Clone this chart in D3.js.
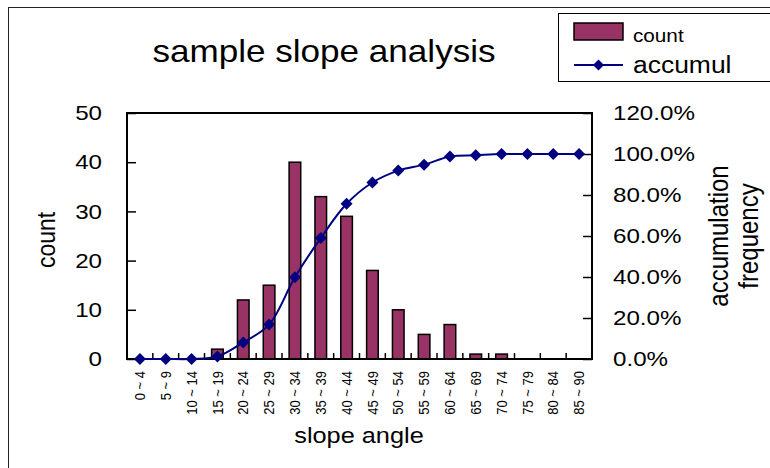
<!DOCTYPE html>
<html>
<head>
<meta charset="utf-8">
<script src="https://cdn.jsdelivr.net/npm/d3@7"></script>
<style>
  html, body { margin: 0; padding: 0; background: #fff; }
  #chart { width: 770px; height: 468px; }
</style>
</head>
<body>
<div id="chart"></div>
<script>
const categories = ["0 ~ 4", "5 ~ 9", "10 ~ 14", "15 ~ 19", "20 ~ 24", "25 ~ 29",
  "30 ~ 34", "35 ~ 39", "40 ~ 44", "45 ~ 49", "50 ~ 54", "55 ~ 59",
  "60 ~ 64", "65 ~ 69", "70 ~ 74", "75 ~ 79", "80 ~ 84", "85 ~ 90"];
const counts = [0, 0, 0, 2, 12, 15, 40, 33, 29, 18, 10, 5, 7, 1, 1, 0, 0, 0];
const accumul = [0, 0, 0, 1.2, 8.1, 16.8, 39.9, 59.0, 75.7, 86.1, 91.9, 94.8,
  98.8, 99.4, 100, 100, 100, 100];
const countTicks = [0, 10, 20, 30, 40, 50];
const pctTicks = [0, 20, 40, 60, 80, 100, 120];

window.addEventListener("load", () => {
  const width = 770;
  const height = 468;
  const barFill = "#993366";
  const lineColor = "#000080";
  const font = "'Liberation Sans', Arial, sans-serif";
  const stretchK = 1.15;

  const plot = { left: 127, right: 592, top: 113, bottom: 359 };

  const svg = d3.select("#chart")
    .append("svg")
    .attr("width", width)
    .attr("height", height)
    .style("font-family", font);

  // the source picture looks stretched sideways, so widen text to match
  function stretch(sel) {
    sel.each(function () {
      const len = this.getComputedTextLength();
      d3.select(this)
        .attr("textLength", len * stretchK)
        .attr("lengthAdjust", "spacingAndGlyphs");
    });
  }

  // outer chart frame
  svg.append("rect")
    .attr("x", 8.5)
    .attr("y", 7.5)
    .attr("width", width)
    .attr("height", height)
    .attr("fill", "none")
    .attr("stroke", "#222")
    .attr("stroke-width", 1);

  const x = d3.scaleBand()
    .domain(categories)
    .range([plot.left, plot.right])
    .paddingInner(0.55)
    .paddingOuter(0.275);
  const yCount = d3.scaleLinear().domain([0, 50]).range([plot.bottom, plot.top]);
  const yPct = d3.scaleLinear().domain([0, 120]).range([plot.bottom, plot.top]);
  const cx = (c) => x(c) + x.bandwidth() / 2;

  // left axis
  const leftAxis = svg.append("g")
    .attr("transform", `translate(${plot.left},0)`)
    .call(d3.axisLeft(yCount).tickValues(countTicks).tickSize(-9).tickPadding(25));
  leftAxis.select(".domain").remove();
  leftAxis.selectAll("line").attr("stroke", "#000").attr("stroke-width", 1.5);
  leftAxis.selectAll("text")
    .attr("font-size", "21px")
    .attr("font-family", font)
    .attr("fill", "#000")
    .call(stretch);

  // right axis
  const rightAxis = svg.append("g")
    .attr("transform", `translate(${plot.right},0)`)
    .call(d3.axisRight(yPct).tickValues(pctTicks).tickSize(-9).tickPadding(21)
      .tickFormat((d) => d3.format(".1f")(d) + "%"));
  rightAxis.select(".domain").remove();
  rightAxis.selectAll("line").attr("stroke", "#000").attr("stroke-width", 1.5);
  rightAxis.selectAll("text")
    .attr("font-size", "21px")
    .attr("font-family", font)
    .attr("fill", "#000")
    .call(stretch);

  // bottom ticks at category boundaries, pointing inward
  svg.append("g")
    .selectAll("line")
    .data(categories.slice(1))
    .join("line")
    .attr("x1", (d) => x(d) - x.step() * x.paddingInner() / 2)
    .attr("x2", (d) => x(d) - x.step() * x.paddingInner() / 2)
    .attr("y1", plot.bottom)
    .attr("y2", plot.bottom - 6)
    .attr("stroke", "#000")
    .attr("stroke-width", 1.5);

  // bars
  svg.append("g")
    .selectAll("rect")
    .data(categories)
    .join("rect")
    .attr("x", (d) => x(d))
    .attr("y", (d, i) => yCount(counts[i]))
    .attr("width", x.bandwidth())
    .attr("height", (d, i) => plot.bottom - yCount(counts[i]))
    .attr("fill", barFill)
    .attr("stroke", "#000")
    .attr("stroke-width", (d, i) => (counts[i] > 0 ? 1.5 : 0));

  // plot frame
  svg.append("rect")
    .attr("x", plot.left)
    .attr("y", plot.top)
    .attr("width", plot.right - plot.left)
    .attr("height", plot.bottom - plot.top)
    .attr("fill", "none")
    .attr("stroke", "#000")
    .attr("stroke-width", 2);

  // cumulative line
  const line = d3.line()
    .x((d, i) => cx(categories[i]))
    .y((d) => yPct(d))
    .curve(d3.curveCatmullRom.alpha(0.5));

  svg.append("path")
    .datum(accumul)
    .attr("d", line)
    .attr("fill", "none")
    .attr("stroke", lineColor)
    .attr("stroke-width", 2);

  const diamond = (r) => `M0,${-r}L${r},0L0,${r}L${-r},0Z`;

  svg.append("g")
    .selectAll("path")
    .data(accumul)
    .join("path")
    .attr("transform", (d, i) => `translate(${cx(categories[i])},${yPct(d)})`)
    .attr("d", diamond(6))
    .attr("fill", lineColor);

  // x tick labels
  svg.append("g")
    .selectAll("text")
    .data(categories)
    .join("text")
    .attr("transform", (d) => `translate(${cx(d)},371) rotate(-90) scale(1,${stretchK})`)
    .attr("text-anchor", "end")
    .attr("dy", "0.35em")
    .attr("font-size", "13px")
    .attr("fill", "#000")
    .text((d) => d);

  // title
  svg.append("text")
    .attr("x", 324)
    .attr("y", 62)
    .attr("text-anchor", "middle")
    .attr("font-size", "30.5px")
    .attr("fill", "#000")
    .text("sample slope analysis")
    .call(stretch);

  // axis titles
  svg.append("text")
    .attr("x", 359)
    .attr("y", 443)
    .attr("text-anchor", "middle")
    .attr("font-size", "22px")
    .attr("fill", "#000")
    .text("slope angle")
    .call(stretch);

  svg.append("text")
    .attr("transform", `translate(55,240) rotate(-90) scale(1,${stretchK})`)
    .attr("text-anchor", "middle")
    .attr("font-size", "23px")
    .attr("fill", "#000")
    .text("count");

  svg.append("text")
    .attr("transform", `translate(728,236) rotate(-90) scale(1,${stretchK})`)
    .attr("text-anchor", "middle")
    .attr("font-size", "24px")
    .attr("fill", "#000")
    .text("accumulation");

  svg.append("text")
    .attr("transform", `translate(758,236) rotate(-90) scale(1,${stretchK})`)
    .attr("text-anchor", "middle")
    .attr("font-size", "24px")
    .attr("fill", "#000")
    .text("frequency");

  // legend
  const legend = svg.append("g");
  legend.append("rect")
    .attr("x", 558.5)
    .attr("y", 13.5)
    .attr("width", 220)
    .attr("height", 68)
    .attr("fill", "#fff")
    .attr("stroke", "#000")
    .attr("stroke-width", 1);
  legend.append("rect")
    .attr("x", 574)
    .attr("y", 23)
    .attr("width", 49)
    .attr("height", 17)
    .attr("fill", barFill)
    .attr("stroke", "#000")
    .attr("stroke-width", 1.5);
  legend.append("text")
    .attr("x", 633)
    .attr("y", 42)
    .attr("font-size", "18px")
    .attr("fill", "#000")
    .text("count")
    .call(stretch);
  legend.append("line")
    .attr("x1", 574)
    .attr("x2", 623)
    .attr("y1", 65)
    .attr("y2", 65)
    .attr("stroke", lineColor)
    .attr("stroke-width", 2);
  legend.append("path")
    .attr("transform", "translate(598.5,65)")
    .attr("d", diamond(5.5))
    .attr("fill", lineColor);
  legend.append("text")
    .attr("x", 633)
    .attr("y", 73)
    .attr("font-size", "23px")
    .attr("fill", "#000")
    .text("accumul")
    .call(stretch);
});
</script>
</body>
</html>
